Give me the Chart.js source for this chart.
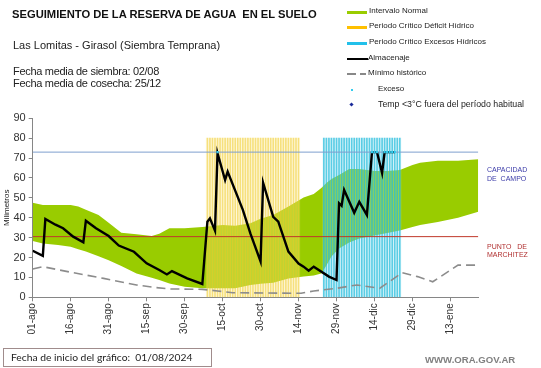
<!DOCTYPE html>
<html>
<head>
<meta charset="utf-8">
<script src="https://cdn.jsdelivr.net/npm/chart.js@4.4.1/dist/chart.umd.min.js"></script>
<style>
  body { margin: 0; background: #fff; }
  #wrap { position: relative; width: 541px; height: 368px; overflow: hidden; font-family: "Liberation Sans", Arial, sans-serif; color: #111; }
  #c { position: absolute; left: 0; top: 0; }
  .t { position: absolute; white-space: nowrap; line-height: 1; }
  .ico { position: absolute; }
</style>
</head>
<body>
<div id="wrap">
  <canvas id="c" width="541" height="368"></canvas>

  <div class="t" style="left:12px;top:9px;font-size:11.2px;font-weight:bold;">SEGUIMIENTO DE LA RESERVA DE AGUA &nbsp;EN EL SUELO</div>
  <div class="t" style="left:13px;top:40px;font-size:11px;color:#222;">Las Lomitas - Girasol (Siembra Temprana)</div>
  <div class="t" style="left:13px;top:66px;font-size:11px;letter-spacing:-0.3px;color:#222;">Fecha media de siembra: 02/08</div>
  <div class="t" style="left:13px;top:78px;font-size:11px;letter-spacing:-0.3px;color:#222;">Fecha media de cosecha: 25/12</div>

  <!-- leyenda -->
  <div class="ico" style="left:347px;top:11px;width:20px;height:3px;background:#99cc00;"></div>
  <div class="t" style="left:369px;top:7px;font-size:8px;color:#222;">Intervalo Normal</div>
  <div class="ico" style="left:347px;top:26px;width:20px;height:3px;background:#ffc000;"></div>
  <div class="t" style="left:369px;top:22px;font-size:8px;color:#222;">Periodo Crítico Déficit Hídrico</div>
  <div class="ico" style="left:347px;top:42px;width:20px;height:3px;background:#22c0ea;"></div>
  <div class="t" style="left:369px;top:38px;font-size:8px;color:#222;">Periodo Crítico Excesos Hídricos</div>
  <div class="ico" style="left:347px;top:58px;width:21px;height:2px;background:#000;"></div>
  <div class="t" style="left:368px;top:54px;font-size:8px;color:#222;">Almacenaje</div>
  <div class="ico" style="left:347px;top:73px;width:9px;height:1.5px;background:#888;"></div>
  <div class="ico" style="left:360px;top:73px;width:6px;height:1.5px;background:#888;"></div>
  <div class="t" style="left:368px;top:69px;font-size:8px;color:#222;">Mínimo histórico</div>
  <div class="ico" style="left:351px;top:89px;width:2px;height:2px;background:#33ccee;"></div>
  <div class="t" style="left:378px;top:85px;font-size:8px;color:#222;">Exceso</div>
  <div class="ico" style="left:350px;top:103px;width:3px;height:3px;background:#1a2a9a;transform:rotate(45deg);"></div>
  <div class="t" style="left:378px;top:100px;font-size:8.8px;color:#222;">Temp &lt;3°C fuera del período habitual</div>

  <!-- etiquetas derechas -->
  <div class="t" style="left:487px;top:166px;font-size:7px;color:#3a3aa8;">CAPACIDAD</div>
  <div class="t" style="left:487px;top:175px;font-size:7px;color:#3a3aa8;">DE &nbsp;CAMPO</div>
  <div class="t" style="left:487px;top:243px;font-size:7px;color:#b03030;">PUNTO &nbsp;&nbsp;DE</div>
  <div class="t" style="left:487px;top:251px;font-size:7px;color:#b03030;">MARCHITEZ</div>

  <div style="position:absolute;left:3px;top:348px;width:207px;height:17px;border:1px solid #a08c8c;"></div>
  <div class="t" style="left:11px;top:352px;font-size:10.3px;font-family:Lato, sans-serif;color:#222;">Fecha de inicio del gráfico: &nbsp;01/08/2024</div>
  <div class="t" style="left:425px;top:355px;font-size:9.6px;font-weight:bold;color:#808080;">WWW.ORA.GOV.AR</div>
</div>

<script>
// etiquetas del eje x (cada 15 dias desde 01-ago)
const tickLabels = ["01-ago", "16-ago", "31-ago", "15-sep", "30-sep", "15-oct", "30-oct", "14-nov", "29-nov", "14-dic", "29-dic", "13-ene"];
const tickDays = [0, 15, 30, 45, 60, 75, 90, 105, 120, 135, 150, 165];

// intervalo normal (banda verde)
const bandDays  = [0, 4, 10, 15, 18, 21, 26, 30, 35, 41, 47, 50, 54, 60, 67, 75, 80, 86, 90, 95, 101, 107, 111, 114, 116, 118, 121, 125, 129, 135, 140, 145, 150, 153, 160, 168, 176];
const bandUpper = [47.6, 46.4, 46.4, 46.4, 45.6, 44, 41.4, 37.5, 32.5, 31.7, 30.8, 32, 34.7, 34.7, 35.3, 36.3, 36, 37.2, 39.5, 41.4, 45.6, 50.2, 52, 55, 57.5, 59.5, 61.5, 64.5, 64.5, 63.5, 63.5, 64, 66.5, 67.6, 68.7, 68.7, 69.4];
const bandLower = [28.3, 27, 26.3, 25.4, 24.2, 23, 20.6, 18.6, 15.7, 12, 9.8, 8.7, 7, 5.3, 4.5, 4.5, 4.6, 6.2, 6.8, 7.3, 9.5, 10.4, 11, 12, 16, 20.5, 24.5, 27.5, 29.6, 31.1, 32.3, 33.6, 35.3, 36.3, 37.8, 40, 43];

// minimo historico
const minimoDays   = [0, 4, 15, 28, 41, 48, 54, 67, 73, 79, 106, 111, 120, 128, 137, 146, 152, 158, 168, 176];
const minimoValues = [14.2, 15.4, 12.6, 9.5, 6.2, 5, 4.2, 4, 3.2, 2.3, 2, 3.2, 4.5, 6.2, 4.5, 12.4, 10.4, 7.8, 16.2, 16.2];

// almacenaje
const almDays   = [0, 4, 5, 9, 12, 16, 20, 21, 25, 30, 34, 40, 45, 50, 53, 55, 61, 67, 69, 70, 72, 73, 76, 77, 83, 86, 90, 91, 95, 97, 101, 105, 107, 109, 111, 117, 120, 121, 122, 123, 127, 129, 132, 134, 136, 138, 139, 143];
const almValues = [23.4, 20.8, 39.4, 36.5, 34.7, 30.5, 27.6, 38.5, 34.7, 30.8, 26, 22.9, 17.1, 13.7, 11.5, 13.2, 9.5, 6.7, 38, 39.7, 33.5, 72.4, 59, 63.2, 44, 32, 18, 57.6, 40.5, 38, 23, 17, 15.4, 13.4, 15.4, 10.4, 8.7, 47.3, 46, 54, 42.5, 48, 41.4, 73, 73, 62.5, 73, 73];

// dias con exceso
const excesoDays = [73, 134, 135, 136, 139, 140, 141, 142, 143];

// periodos criticos (barras)
const deficitDays = [69, 70, 71, 72, 73, 74, 75, 76, 77, 78, 79, 80, 81, 82, 83, 84, 85, 86, 87, 88, 89, 90, 91, 92, 93, 94, 95, 96, 97, 98, 99, 100, 101, 102, 103, 104, 105];
const excesosDays = [115, 116, 117, 118, 119, 120, 121, 122, 123, 124, 125, 126, 127, 128, 129, 130, 131, 132, 133, 134, 135, 136, 137, 138, 139, 140, 141, 142, 143, 144, 145];
const periodoTop = 80;

const capacidadCampo = 73;
const puntoMarchitez = 30.5;
const xMax = 176;

const pts = (xs, ys) => xs.map((x, i) => ({ x: x, y: ys[i] }));
const bars = (xs) => xs.map((x) => ({ x: x, y: periodoTop }));

new Chart(document.getElementById("c"), {
    type: "line",
    data: {
        datasets: [
            { data: pts(bandDays, bandUpper), fill: "+1", backgroundColor: "#99cc00", borderWidth: 0, pointRadius: 0, order: 20 },
            { data: pts(bandDays, bandLower), fill: false, borderWidth: 0, pointRadius: 0, order: 20 },
            { type: "bar", data: bars(deficitDays), backgroundColor: "rgba(255, 240, 170, 0.2)", barThickness: 2.6, grouped: false, order: 16 },
            { type: "bar", data: bars(deficitDays), backgroundColor: "rgba(240, 205, 50, 0.6)", barThickness: 1, grouped: false, order: 15 },
            { type: "bar", data: bars(excesosDays), backgroundColor: "rgba(170, 230, 245, 0.2)", barThickness: 2.6, grouped: false, order: 16 },
            { type: "bar", data: bars(excesosDays), backgroundColor: "rgba(40, 190, 220, 0.75)", barThickness: 1, grouped: false, order: 15 },
            { data: [{ x: 0, y: capacidadCampo }, { x: xMax, y: capacidadCampo }], borderColor: "#7f9fcf", borderWidth: 1, pointRadius: 0, order: 12 },
            { data: [{ x: 0, y: puntoMarchitez }, { x: xMax, y: puntoMarchitez }], borderColor: "#c0392b", borderWidth: 1, pointRadius: 0, order: 12 },
            { data: pts(minimoDays, minimoValues), borderColor: "#8c8c8c", borderWidth: 1.6, borderDash: [9, 5], pointRadius: 0, order: 11 },
            { data: pts(almDays, almValues), borderColor: "#000", borderWidth: 2.4, pointRadius: 0, order: 5 },
            {
                data: excesoDays.map((d) => ({ x: d, y: capacidadCampo })),
                showLine: false, pointStyle: "rect", pointRadius: 1.6,
                pointBackgroundColor: "#33ccee", pointBorderWidth: 0, order: 1,
            },
        ],
    },
    options: {
        responsive: false,
        animation: false,
        devicePixelRatio: 1,
        layout: { padding: { left: 0, right: 62.7, top: 118.3, bottom: 30.7 } },
        elements: { line: { tension: 0 } },
        plugins: { legend: { display: false }, tooltip: { enabled: false } },
        scales: {
            x: {
                type: "linear",
                offset: false,
                min: 0,
                max: xMax,
                afterFit: (s) => { s.height = 40; },
                afterBuildTicks: (s) => { s.ticks = tickDays.map((v) => ({ value: v })); },
                grid: { drawOnChartArea: false, tickLength: 4, color: "#868686", offset: false },
                border: { color: "#868686" },
                ticks: {
                    autoSkip: false,
                    maxRotation: 90,
                    minRotation: 90,
                    padding: 2,
                    color: "#333",
                    font: { family: "Liberation Sans", size: 10 },
                    callback: (v) => tickLabels[tickDays.indexOf(v)],
                },
            },
            y: {
                min: 0,
                max: 90,
                afterFit: (s) => { s.width = 32.7; },
                grid: { drawOnChartArea: false, tickLength: 4, color: "#868686" },
                border: { color: "#868686" },
                ticks: { stepSize: 10, padding: 3, color: "#333", font: { family: "Liberation Sans", size: 11 } },
                title: { display: true, text: "Milimetros", padding: { top: 2, bottom: 0 }, color: "#222", font: { family: "Liberation Sans", size: 8 } },
            },
        },
    },
});
</script>
</body>
</html>
